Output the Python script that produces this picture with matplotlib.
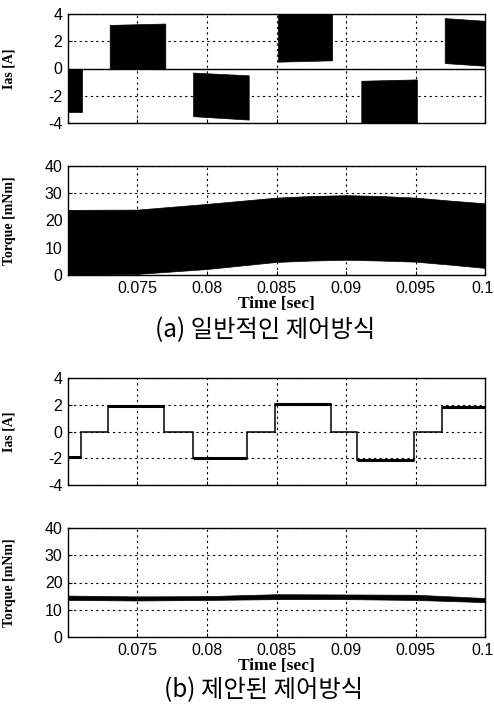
import matplotlib
matplotlib.use("Agg")
import matplotlib.pyplot as plt
import matplotlib.transforms as mtransforms
import numpy as np

# ---------------- data ----------------
# (a) conventional: Ias chopping bands (segment start/end, lower/upper envelope)
ias_a_t_start = [0.0700, 0.0730, 0.0790, 0.0851, 0.0911, 0.0971]
ias_a_t_end = [0.0710, 0.0770, 0.0830, 0.0890, 0.0951, 0.1000]
ias_a_low_start = [-3.2, 0.0, -3.5, 0.5, -4.3, 0.4]
ias_a_low_end = [-3.2, 0.0, -3.75, 0.6, -4.3, 0.2]
ias_a_high_start = [0.0, 3.2, -0.3, 4.3, -0.9, 3.7]
ias_a_high_end = [0.0, 3.3, -0.5, 4.3, -0.8, 3.5]

# (a) torque envelope
torque_a_t = [0.070, 0.075, 0.080, 0.085, 0.0875, 0.090, 0.0925, 0.095, 0.0975, 0.100]
torque_a_upper = [23.9, 24.0, 26.1, 28.4, 29.0, 29.3, 29.0, 28.4, 27.3, 26.3]
torque_a_lower = [0.0, 0.4, 2.2, 4.8, 5.3, 5.6, 5.3, 4.9, 3.8, 2.6]

# (b) proposed: Ias step waveform
ias_b_edges = [0.0700, 0.0709, 0.0729, 0.0769, 0.0790, 0.0829, 0.0849,
               0.0889, 0.0908, 0.0949, 0.0969, 0.1000]
ias_b_levels = [-1.9, 0.0, 1.9, 0.0, -2.0, 0.0, 2.05, 0.0, -2.1, 0.0, 1.8]

# (b) torque band
torque_b_t = [0.070, 0.075, 0.080, 0.085, 0.090, 0.095, 0.100]
torque_b_upper = [15.2, 14.9, 15.0, 15.7, 15.6, 15.5, 14.3]
torque_b_lower = [13.6, 13.4, 13.6, 13.9, 13.9, 13.6, 12.8]

x_ticks = [0.075, 0.08, 0.085, 0.09, 0.095, 0.1]
x_tick_labels = ["0.075", "0.08", "0.085", "0.09", "0.095", "0.1"]
ias_ticks = [-4, -2, 0, 2, 4]
torque_ticks = [0, 10, 20, 30, 40]
captions = ["(a) 일반적인 제어방식", "(b) 제안된 제어방식"]

# ---------------- figure ----------------
W, H = 494, 711
fig = plt.figure(figsize=(W / 100, H / 100), dpi=100)

def rect(top, bottom, left=68, right=485):
    return [left / W, 1 - bottom / H, (right - left) / W, (bottom - top) / H]

tick_font = dict(family="Liberation Sans", size=11.5)
label_font = dict(family="Liberation Serif", weight="bold", size=10)

def style(ax, ylim, yticks, ylabel, show_x):
    ax.set_xlim(0.07, 0.1)
    ax.set_ylim(*ylim)
    ax.set_xticks(x_ticks)
    ax.set_yticks(yticks)
    ax.grid(True, color="black", linestyle=(0, (2, 3)), linewidth=0.8)
    ax.tick_params(direction="in", length=3, width=0.8, pad=4, colors="black")
    ax.set_yticklabels([str(v) for v in yticks], fontdict=tick_font)
    if show_x:
        ax.set_xticklabels(x_tick_labels, fontdict=tick_font)
        last = ax.get_xticklabels()[-1]
        last.set_transform(last.get_transform() +
                           mtransforms.ScaledTranslation(-3 / 100, 0, fig.dpi_scale_trans))
        ax.set_xlabel("Time [sec]", family="Liberation Serif", weight="bold",
                      size=12.5, labelpad=0)
    else:
        ax.set_xticklabels([])
    ax.set_ylabel(ylabel, **label_font, labelpad=10)
    for s in ax.spines.values():
        s.set_linewidth(1.0)
        s.set_color("black")

# panel 1 : Ias (a)
ax1 = fig.add_axes(rect(14, 123))
ax1.plot([0.07, 0.1], [0, 0], color="black", lw=1.0)
for ts, te, ls, le, hs, he in zip(ias_a_t_start, ias_a_t_end, ias_a_low_start,
                                  ias_a_low_end, ias_a_high_start, ias_a_high_end):
    ax1.fill_between([ts, te], [ls, le], [hs, he], color="black", lw=0.5)
style(ax1, (-4, 4), ias_ticks, "Ias [A]", False)
ax1.yaxis.set_label_coords(-0.125, 0.5)

# panel 2 : Torque (a)
ax2 = fig.add_axes(rect(166, 275))
ax2.fill_between(torque_a_t, torque_a_lower, torque_a_upper, color="black", lw=0.5)
style(ax2, (0, 40), torque_ticks, "Torque [mNm]", True)
ax2.yaxis.set_label_coords(-0.125, 0.5)

# panel 3 : Ias (b)
ax3 = fig.add_axes(rect(378, 485))
ax3.stairs(ias_b_levels, ias_b_edges, color="black", lw=1.1, baseline=None)
for lv, t0, t1 in zip(ias_b_levels, ias_b_edges[:-1], ias_b_edges[1:]):
    if lv != 0:
        ax3.plot([t0, t1], [lv, lv], color="black", lw=2.2, solid_capstyle="butt")
style(ax3, (-4, 4), ias_ticks, "Ias [A]", False)
ax3.yaxis.set_label_coords(-0.125, 0.5)

# panel 4 : Torque (b)
ax4 = fig.add_axes(rect(528, 637))
ax4.fill_between(torque_b_t, torque_b_lower, torque_b_upper, color="black", lw=0.5)
style(ax4, (0, 40), torque_ticks, "Torque [mNm]", True)
ax4.yaxis.set_label_coords(-0.125, 0.5)

cap_font = ["Noto Sans CJK KR", "DejaVu Sans"]
fig.text(265 / W, 1 - 330 / H, captions[0], family=cap_font, size=17.5,
         ha="center", va="center")
fig.text(264 / W, 1 - 690 / H, captions[1], family=cap_font, size=17.5,
         ha="center", va="center")

fig.savefig("out.png", dpi=100, facecolor="white")
